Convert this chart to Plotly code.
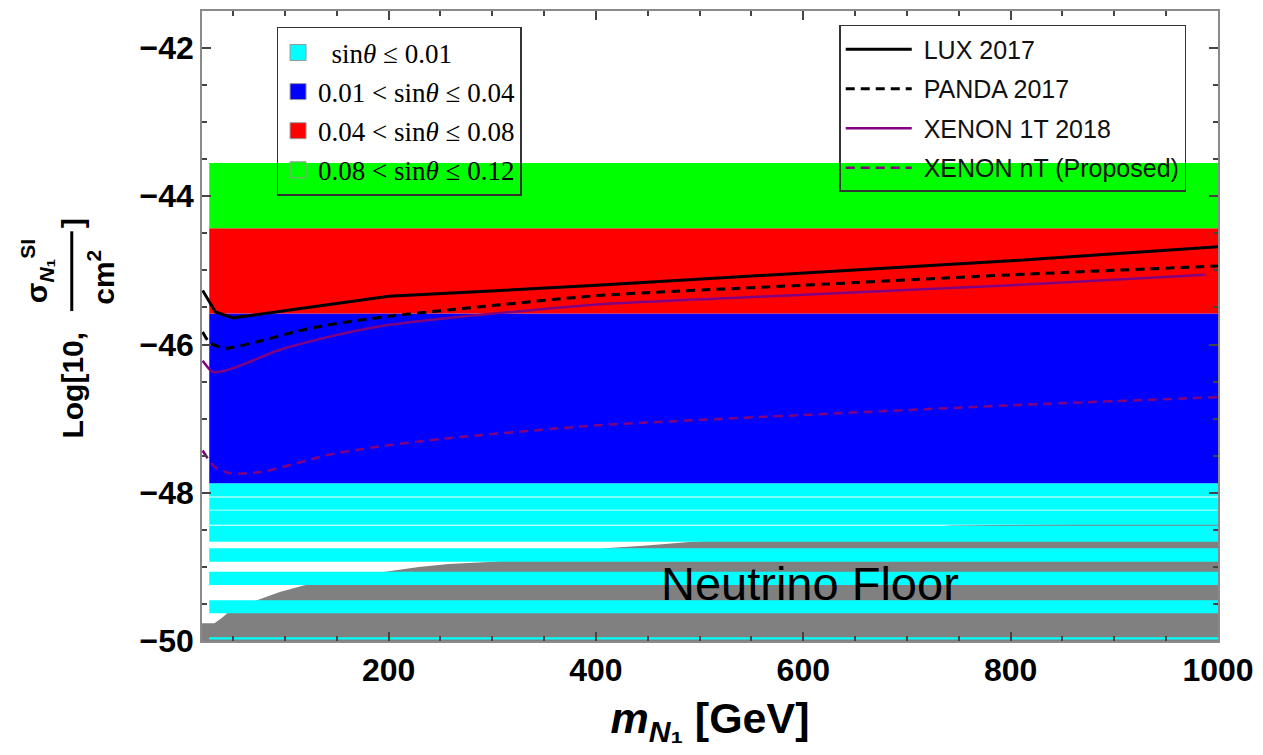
import plotly.graph_objects as go

# ---------------- data ----------------
band_x = [27, 1000]
green_band = (-44.43, -43.55)
red_band = (-45.58, -44.43)
blue_band = (-47.87, -45.58)
cyan_stripes = [(-48.05, -47.87), (-48.23, -48.065), (-48.43, -48.24), (-48.66, -48.445),
                (-48.93, -48.75), (-49.245, -49.065), (-49.625, -49.45), (-49.98, -49.95)]

floor_x = [20, 32, 39, 45, 73, 95, 118, 195, 229, 258, 301, 409, 449, 493, 743, 1000]
floor_y = [-49.76, -49.76, -49.69, -49.62, -49.45, -49.34, -49.25, -49.07, -49.00, -48.96,
           -48.93, -48.75, -48.71, -48.66, -48.44, -48.40]

lux_x = [20.6, 33, 50, 109, 200, 401, 600, 800, 1000]
lux_y = [-45.27, -45.56, -45.64, -45.53, -45.35, -45.20, -45.04, -44.87, -44.68]

panda_x = [20.6, 27, 41.7, 77, 109, 140, 173, 205, 253, 401, 600, 800, 1000]
panda_y = [-45.83, -45.97, -46.05, -45.95, -45.83, -45.74, -45.67, -45.61, -45.54,
           -45.34, -45.20, -45.06, -44.94]

x1t_x = [20.6, 30, 40, 61, 93, 141, 189, 253, 401, 600, 800, 988]
x1t_y = [-46.22, -46.37, -46.36, -46.26, -46.08, -45.90, -45.76, -45.65, -45.46, -45.33,
         -45.20, -45.06]

xnt_x = [20.6, 32, 48, 77, 109, 141, 189, 253, 401, 600, 800, 1000]
xnt_y = [-47.43, -47.65, -47.74, -47.72, -47.61, -47.49, -47.38, -47.27, -47.09, -46.95,
         -46.82, -46.71]

band_labels = ["&nbsp;&nbsp;sin<i>θ</i> ≤ 0.01", "0.01 &lt; sin<i>θ</i> ≤ 0.04",
               "0.04 &lt; sin<i>θ</i> ≤ 0.08", "0.08 &lt; sin<i>θ</i> ≤ 0.12"]
band_colors = ["#00FFFF", "#0000FF", "#FF0000", "#00FF00"]
limit_labels = ["LUX 2017", "PANDA 2017", "XENON 1T 2018", "XENON nT (Proposed)"]

x_range = [20, 1000]
y_range = [-50, -41.5]
x_ticks = [200, 400, 600, 800, 1000]
y_ticks = [-50, -48, -46, -44, -42]

# ---------------- figure ----------------
fig = go.Figure()

def rect(lo, hi):
    return [band_x[0], band_x[1], band_x[1], band_x[0], band_x[0]], [lo, lo, hi, hi, lo]

# neutrino floor
fig.add_trace(go.Scatter(x=floor_x + [x_range[1], x_range[0]], y=floor_y + [y_range[0], y_range[0]],
                         fill="toself", fillcolor="#808080", mode="none", showlegend=False,
                         hoverinfo="skip"))

# cyan stripes
cx, cy = [], []
for lo, hi in cyan_stripes:
    xs, ys = rect(lo, hi)
    cx += xs + [None]
    cy += ys + [None]
fig.add_trace(go.Scatter(x=cx, y=cy, fill="toself", fillcolor=band_colors[0], mode="none",
                         showlegend=False, hoverinfo="skip"))

for band, col in zip([blue_band, red_band, green_band], band_colors[1:]):
    xs, ys = rect(*band)
    fig.add_trace(go.Scatter(x=xs, y=ys, fill="toself", fillcolor=col, mode="none",
                             showlegend=False, hoverinfo="skip"))

# legend entries for bands
for i, (lab, col) in enumerate(zip(band_labels, band_colors)):
    fig.add_trace(go.Scatter(x=[None], y=[None], mode="markers", name=lab,
                             marker=dict(symbol="square", size=18, color=col,
                                         line=dict(color="#9a9a9a", width=1)),
                             legend="legend", legendgroup=f"b{i}"))

# limit curves
sp = "&nbsp;"
fig.add_trace(go.Scatter(x=lux_x, y=lux_y, mode="lines", name=sp + limit_labels[0],
                         line=dict(color="black", width=3), legend="legend2", legendgroup="l1"))
fig.add_trace(go.Scatter(x=panda_x, y=panda_y, mode="lines", name=sp + limit_labels[1],
                         line=dict(color="black", width=3, dash="9px,6px", shape="spline", smoothing=0.6),
                         legend="legend2", legendgroup="l2"))
fig.add_trace(go.Scatter(x=x1t_x, y=x1t_y, mode="lines", name=sp + limit_labels[2],
                         line=dict(color="#800080", width=2.5, shape="spline", smoothing=0.6),
                         legend="legend2", legendgroup="l3"))
fig.add_trace(go.Scatter(x=xnt_x, y=xnt_y, mode="lines", name=sp + limit_labels[3],
                         line=dict(color="#800080", width=2.5, dash="9px,6px", shape="spline", smoothing=0.6),
                         legend="legend2", legendgroup="l4"))

L, R, T, B = 202, 39, 9, 114
W, H = 1263, 755
pw, ph = W - L - R, H - T - B

def px(xp):
    return (xp - L) / pw

def py(yp):
    return (H - B - yp) / ph

axis_common = dict(showgrid=False, zeroline=False, showline=True, linecolor="#8a8a8a", linewidth=1.5,
                   mirror="ticks", ticks="inside", ticklen=9, tickwidth=1.5, tickcolor="#444",
                   tickfont=dict(family="Liberation Sans", size=32, weight="bold", color="black"))

fig.update_layout(
    width=W, height=H, autosize=False,
    margin=dict(l=L, r=R, t=T, b=B),
    paper_bgcolor="white", plot_bgcolor="white",
    xaxis=dict(range=x_range, tickvals=x_ticks,
               minor=dict(dtick=50, tick0=0, ticks="inside", ticklen=5, tickcolor="#444"),
               title=dict(text="<i>m</i><sub><i>N</i>₁</sub> [GeV]",
                          font=dict(family="Liberation Sans", size=43, weight="bold", color="black"),
                          standoff=16),
               **axis_common),
    yaxis=dict(range=y_range, tickvals=y_ticks,
               minor=dict(dtick=0.5, tick0=0, ticks="inside", ticklen=5, tickcolor="#444"),
               **axis_common),
    legend=dict(x=px(277), y=py(25), xanchor="left", yanchor="top", bgcolor="rgba(0,0,0,0)",
                bordercolor="#333", borderwidth=1.5, tracegroupgap=1,
                font=dict(family="Liberation Serif", size=27, color="black")),
    legend2=dict(x=px(843), y=py(23), xanchor="left", yanchor="top", bgcolor="rgba(0,0,0,0)",
                 bordercolor="#333", borderwidth=1.5, tracegroupgap=4, itemwidth=66,
                 font=dict(family="Liberation Sans", size=25, color="#111")),
)

# y-axis title built from pieces (Mathematica fraction layout)
yfont = dict(family="Liberation Sans", size=30, weight="bold", color="black")
def ypiece(xp, yp, text):
    fig.add_annotation(xref="paper", yref="paper", x=px(xp), y=py(yp), text=text,
                       xanchor="center", yanchor="middle", textangle=-90, showarrow=False, font=yfont)

ypiece(72, 384, "Log[10,")
ypiece(36, 270, "σ<sub><i>N</i>₁</sub><sup>SI</sup>")
ypiece(101, 276, "cm<sup>2</sup>")
ypiece(72, 222, "]")
fig.add_shape(type="line", xref="paper", yref="paper", x0=px(71), x1=px(71), y0=py(230), y1=py(310),
              line=dict(color="black", width=3))

fig.add_annotation(x=606, y=-49.22, text="Neutrino Floor", showarrow=False,
                   font=dict(family="Liberation Sans", size=47, color="black"))

fig.write_html("out.html", config={"displayModeBar": False},
               post_script="document.body.style.margin='0';")
